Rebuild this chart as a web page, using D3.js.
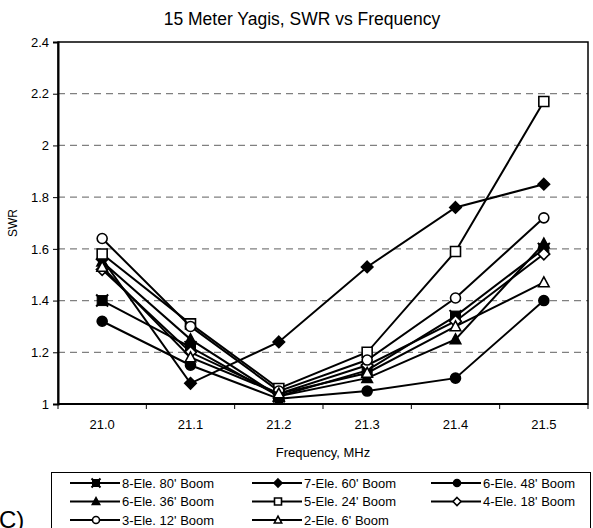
<!DOCTYPE html>
<html>
<head>
<script src="https://d3js.org/d3.v7.min.js"></script>
<style>
body { margin: 0; background: #fff; }
svg text { font-family: "Liberation Sans", Arial, sans-serif; fill: #000; }
</style>
</head>
<body>
<svg id="chart" width="593" height="528"></svg>
<script>
// data
var freqs = ["21.0", "21.1", "21.2", "21.3", "21.4", "21.5"];
var yTicks = [1, 1.2, 1.4, 1.6, 1.8, 2, 2.2, 2.4];
var seriesNames = ["8-Ele. 80' Boom", "7-Ele. 60' Boom", "6-Ele. 48' Boom", "6-Ele. 36' Boom",
                   "5-Ele. 24' Boom", "4-Ele. 18' Boom", "3-Ele. 12' Boom", "2-Ele. 6' Boom"];
var ele8_80 = [1.40, 1.22, 1.03, 1.13, 1.34, 1.60];
var ele7_60 = [1.56, 1.08, 1.24, 1.53, 1.76, 1.85];
var ele6_48 = [1.32, 1.15, 1.02, 1.05, 1.10, 1.40];
var ele6_36 = [1.55, 1.25, 1.03, 1.10, 1.25, 1.62];
var ele5_24 = [1.58, 1.31, 1.06, 1.20, 1.59, 2.17];
var ele4_18 = [1.52, 1.20, 1.04, 1.15, 1.32, 1.58];
var ele3_12 = [1.64, 1.30, 1.05, 1.17, 1.41, 1.72];
var ele2_6  = [1.53, 1.18, 1.04, 1.12, 1.30, 1.47];
var allValues = [ele8_80, ele7_60, ele6_48, ele6_36, ele5_24, ele4_18, ele3_12, ele2_6];
var markers = ["xsquare", "diamond", "circle", "triangle", "square", "diamond", "circle", "triangle"];
var filled  = [true, true, true, true, false, false, false, false];

var svg = d3.select("#chart");
var pLeft = 58, pRight = 588, pTop = 42, pBottom = 404;

var x = d3.scaleBand().domain(freqs).range([pLeft, pRight]);
var y = d3.scaleLinear().domain([1, 2.4]).range([pBottom, pTop]);

// title
svg.append("text").attr("x", 302).attr("y", 25)
  .attr("text-anchor", "middle").style("font-size", "17.5px")
  .text("15 Meter Yagis, SWR vs Frequency");

// gridlines
svg.append("g").selectAll("line")
  .data(yTicks.filter(function(d) { return d > 1 && d < 2.4; }))
  .enter().append("line")
  .attr("x1", pLeft).attr("x2", pRight)
  .attr("y1", function(d) { return y(d); }).attr("y2", function(d) { return y(d); })
  .attr("stroke", "#808080").attr("stroke-width", 1.3)
  .attr("stroke-dasharray", "7,5");

// frame
svg.append("rect").attr("x", pLeft).attr("y", pTop)
  .attr("width", pRight - pLeft).attr("height", pBottom - pTop)
  .attr("fill", "none").attr("stroke", "#000").attr("stroke-width", 1.5);

// y axis
var yAxis = d3.axisLeft(y).tickValues(yTicks).tickSize(5).tickPadding(4)
  .tickFormat(function(d) { return d3.format("~g")(d); });
var gy = svg.append("g").attr("transform", "translate(" + pLeft + ",0)").call(yAxis);
gy.select(".domain").attr("stroke-width", 2);
gy.selectAll("text").style("font-size", "13px").style("font-family", "Liberation Sans, Arial, sans-serif");

// x axis (ticks at band edges)
var gx = svg.append("g").attr("transform", "translate(0," + pBottom + ")");
gx.append("line").attr("x1", pLeft).attr("x2", pRight).attr("stroke", "#000").attr("stroke-width", 2);
gx.selectAll(".xt").data(freqs.concat(["end"])).enter().append("line")
  .attr("x1", function(d, i) { return pLeft + i * x.bandwidth(); })
  .attr("x2", function(d, i) { return pLeft + i * x.bandwidth(); })
  .attr("y1", 0).attr("y2", 5).attr("stroke", "#000");
gx.selectAll("text").data(freqs).enter().append("text")
  .attr("x", function(d) { return x(d) + x.bandwidth() / 2; })
  .attr("y", 25).attr("text-anchor", "middle").style("font-size", "13px")
  .text(function(d) { return d; });

// axis titles
svg.append("text").attr("x", (pLeft + pRight) / 2).attr("y", 457)
  .attr("text-anchor", "middle").style("font-size", "13px").text("Frequency, MHz");
svg.append("text").attr("transform", "translate(17," + ((pTop + pBottom) / 2) + ") rotate(-90)")
  .attr("text-anchor", "middle").style("font-size", "12px").text("SWR");

function drawMarker(g, kind, isFilled, s) {
  var fill = isFilled ? "#000" : "#fff";
  var h = s / 2;
  if (kind === "xsquare") {
    g.append("rect").attr("x", -h).attr("y", -h).attr("width", s).attr("height", s)
      .attr("fill", "#000").attr("stroke", "#000");
    g.append("path").attr("d", "M" + (-h - 1) + "," + (-h - 1) + "L" + (h + 1) + "," + (h + 1) +
      "M" + (h + 1) + "," + (-h - 1) + "L" + (-h - 1) + "," + (h + 1))
      .attr("stroke", "#000").attr("stroke-width", 2);
    return;
  }
  var d;
  if (kind === "diamond") {
    var r = h * 1.15;
    d = "M0," + (-r) + "L" + r + ",0L0," + r + "L" + (-r) + ",0Z";
  } else if (kind === "square") {
    d = "M" + (-h) + "," + (-h) + "h" + s + "v" + s + "h" + (-s) + "Z";
  } else if (kind === "triangle") {
    d = "M0," + (-h * 1.1) + "L" + (h * 1.05) + "," + (h * 0.85) + "L" + (-h * 1.05) + "," + (h * 0.85) + "Z";
  } else {
    d = d3.symbol().type(d3.symbolCircle).size(Math.PI * h * h)();
  }
  g.append("path").attr("d", d)
    .attr("fill", fill).attr("stroke", "#000").attr("stroke-width", 1.6);
}

var line = d3.line()
  .x(function(d, i) { return x(freqs[i]) + x.bandwidth() / 2; })
  .y(function(d) { return y(d); });

allValues.forEach(function(vals, k) {
  svg.append("path").datum(vals).attr("d", line)
    .attr("fill", "none").attr("stroke", "#000").attr("stroke-width", 2);
  vals.forEach(function(v, i) {
    var g = svg.append("g")
      .attr("transform", "translate(" + (x(freqs[i]) + x.bandwidth() / 2) + "," + y(v) + ")");
    drawMarker(g, markers[k], filled[k], 10);
  });
});

// legend
var lg = svg.append("g");
lg.append("rect").attr("x", 51.5).attr("y", 472.5).attr("width", 539).attr("height", 70)
  .attr("fill", "#fff").attr("stroke", "#000").attr("stroke-width", 1);
var colX = [70, 252, 431], rowY = [483, 501.5, 520];
seriesNames.forEach(function(name, k) {
  var cx = colX[k % 3], cy = rowY[Math.floor(k / 3)];
  lg.append("line").attr("x1", cx).attr("x2", cx + 50).attr("y1", cy).attr("y2", cy)
    .attr("stroke", "#000").attr("stroke-width", 2);
  var g = lg.append("g").attr("transform", "translate(" + (cx + 26) + "," + cy + ")");
  drawMarker(g, markers[k], filled[k], 7);
  lg.append("text").attr("x", cx + 52).attr("y", cy + 4.5).style("font-size", "13px").text(name);
});

// stray panel letter at the bottom left
svg.append("text").attr("x", -1).attr("y", 528).style("font-size", "24px").text("C)");
</script>
</body>
</html>
